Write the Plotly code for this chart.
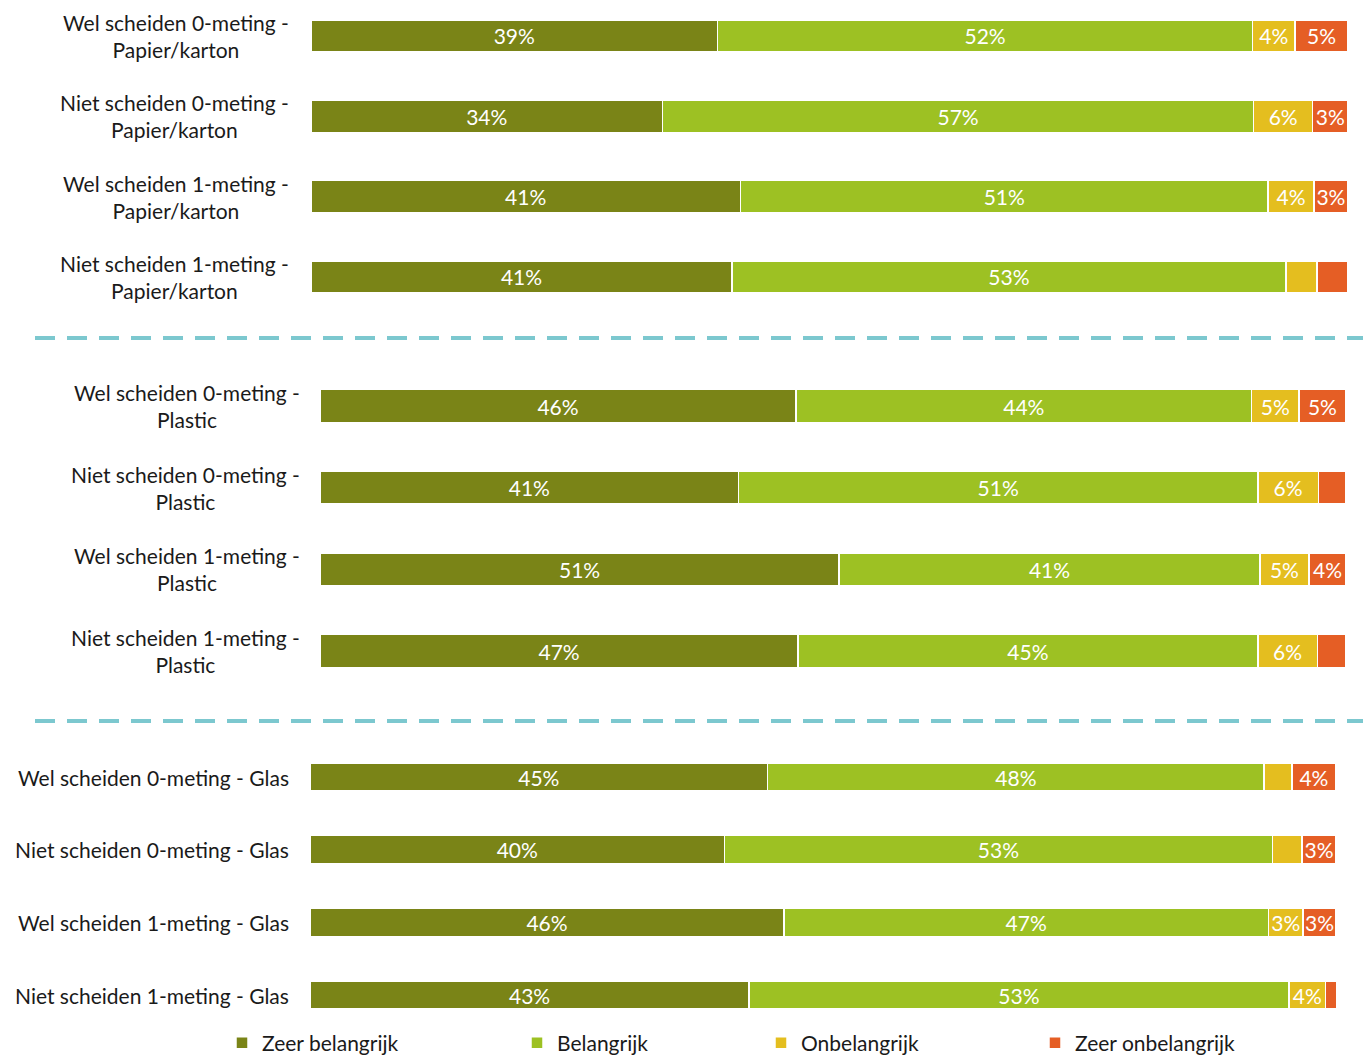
import plotly.graph_objects as go

W, H = 1363, 1058

series = ["Zeer belangrijk", "Belangrijk", "Onbelangrijk", "Zeer onbelangrijk"]
colors = ["#7A8417", "#9DC123", "#E4BE1F", "#E55E25"]

cat_papier = ["Wel scheiden 0-meting - Papier/karton", "Niet scheiden 0-meting - Papier/karton",
              "Wel scheiden 1-meting - Papier/karton", "Niet scheiden 1-meting - Papier/karton"]
cat_plastic = ["Wel scheiden 0-meting - Plastic", "Niet scheiden 0-meting - Plastic",
               "Wel scheiden 1-meting - Plastic", "Niet scheiden 1-meting - Plastic"]
cat_glas = ["Wel scheiden 0-meting - Glas", "Niet scheiden 0-meting - Glas",
            "Wel scheiden 1-meting - Glas", "Niet scheiden 1-meting - Glas"]

papier_zeer = [39.2, 33.9, 41.4, 40.6]
papier_bel = [51.6, 57.0, 50.9, 53.4]
papier_onb = [4.1, 5.7, 4.4, 3.0]
papier_zonb = [5.1, 3.4, 3.3, 3.0]

plastic_zeer = [46.4, 40.8, 50.6, 46.6]
plastic_bel = [44.4, 50.6, 41.0, 44.8]
plastic_onb = [4.6, 5.9, 4.8, 5.8]
plastic_zonb = [4.6, 2.7, 3.6, 2.8]

glas_zeer = [44.6, 40.4, 46.2, 42.8]
glas_bel = [48.4, 53.4, 47.2, 52.6]
glas_onb = [2.7, 2.9, 3.4, 3.6]
glas_zonb = [4.3, 3.3, 3.2, 1.1]

FONT = "Lato"

def fx(px):
    return px / W

def fy(px):
    return 1 - px / H

panels = [
    dict(cats=cat_papier, vals=[papier_zeer, papier_bel, papier_onb, papier_zonb],
         xd=(311, 1348), yd=(0, 317), yr=[3.498, -0.448], width=0.4, lab_x=289, split=True),
    dict(cats=cat_plastic, vals=[plastic_zeer, plastic_bel, plastic_onb, plastic_zonb],
         xd=(320, 1346), yd=(345, 700), yr=[3.6, -0.747], width=0.4, lab_x=300, split=True),
    dict(cats=cat_glas, vals=[glas_zeer, glas_bel, glas_onb, glas_zonb],
         xd=(310, 1336), yd=(730, 1025), yr=[3.412, -0.647], width=0.385, lab_x=289, split=False),
]

fig = go.Figure()
layout = {}
annotations = []

for pi, p in enumerate(panels):
    sfx = "" if pi == 0 else str(pi + 1)
    xa, ya = "x" + sfx, "y" + sfx
    for si, name in enumerate(series):
        v = p["vals"][si]
        fig.add_trace(go.Bar(
            y=p["cats"], x=v, orientation="h", name=name,
            marker=dict(color=colors[si], line=dict(color="white", width=1.5)),
            width=p["width"],
            text=[f"{round(t)}%" if t >= 3.1 else "" for t in v],
            textposition="inside", insidetextanchor="middle", textangle=0,
            textfont=dict(color="white", size=21, family=FONT),
            xaxis=xa, yaxis=ya,
            showlegend=(pi == 0),
            legend="legend" if si == 0 else f"legend{si + 1}",
            hoverinfo="x+y+name",
        ))
    layout["xaxis" + sfx] = dict(domain=[fx(p["xd"][0]), fx(p["xd"][1])], range=[0, 100],
                                 visible=False, anchor=ya)
    layout["yaxis" + sfx] = dict(domain=[fy(p["yd"][1]), fy(p["yd"][0])], range=p["yr"],
                                 type="category", categoryorder="array", categoryarray=p["cats"],
                                 showticklabels=False, showgrid=False, zeroline=False,
                                 anchor=xa)
    for c in p["cats"]:
        txt = c.replace(" - ", " -<br>") if p["split"] else c
        annotations.append(dict(
            text=txt, xref="paper", yref=ya, x=fx(p["lab_x"] + 2), y=c,
            xanchor="right", yanchor="middle", align="center", showarrow=False,
            font=dict(size=21, color="#1a1a1a", family=FONT),
        ))

shapes = []
for ypx in [338, 721]:
    shapes.append(dict(type="line", xref="paper", yref="paper", x0=fx(35), x1=1,
                       y0=fy(ypx), y1=fy(ypx),
                       line=dict(color="#7CC8CF", width=4, dash="20px,12px")))

legend_x = [238, 533, 777, 1051]
for i, lx in enumerate(legend_x):
    key = "legend" if i == 0 else f"legend{i + 1}"
    layout[key] = dict(orientation="h", xref="container", yref="container",
                       x=fx(lx - 16), xanchor="left", y=fy(1043), yanchor="middle",
                       bgcolor="rgba(0,0,0,0)", font=dict(size=21, color="#1a1a1a", family=FONT),
                       itemwidth=30)

fig.update_layout(
    **layout,
    barmode="stack",
    width=W, height=H,
    margin=dict(l=0, r=0, t=0, b=0, autoexpand=False),
    paper_bgcolor="white", plot_bgcolor="white",
    uniformtext=dict(minsize=21, mode="show"),
    annotations=annotations, shapes=shapes,
    font=dict(family=FONT),
)

fig.write_html("out.html", config={"displayModeBar": False},
               post_script="document.body.style.margin='0';")
